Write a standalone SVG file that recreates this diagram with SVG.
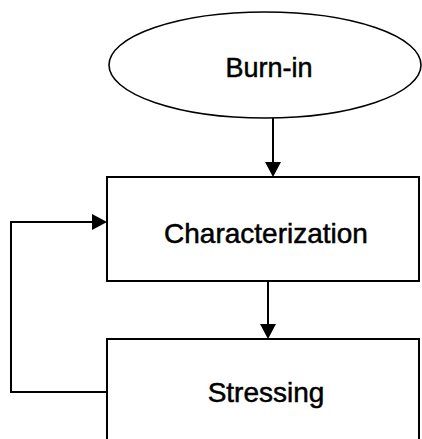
<svg xmlns="http://www.w3.org/2000/svg" width="422" height="439" viewBox="0 0 422 439">
<style>
.shape{fill:#fff;stroke:#000;stroke-width:2}
.lbl{font-family:"Liberation Sans",Arial,sans-serif;font-size:28px;fill:#000;stroke:#000;stroke-width:0.5;text-anchor:middle}
.conn{fill:none;stroke:#000;stroke-width:2}
.head{fill:#000}
</style>
<rect width="422" height="439" fill="#fff"/>
<g id="burnin">
<ellipse class="shape" cx="265" cy="65" rx="156" ry="53" style="stroke-width:1.6"/>
<text class="lbl" x="269" y="77" style="font-size:27px">Burn-in</text>
</g>
<g id="characterization">
<rect class="shape" x="107" y="177" width="312" height="104"/>
<text class="lbl" x="266" y="243">Characterization</text>
</g>
<g id="stressing">
<rect class="shape" x="107" y="339" width="312" height="110"/>
<text class="lbl" x="266" y="402">Stressing</text>
</g>
<g id="connectors">
<path class="conn" d="M273,118 V163"/>
<path class="head" d="M265,162 L281,162 L273,177 Z"/>
<path class="conn" d="M268,281 V326"/>
<path class="head" d="M260,324 L276,324 L268,339 Z"/>
<path class="conn" d="M107,392 H11 V222 H93"/>
<path class="head" d="M92,214 L107,222 L92,230 Z"/>
</g>
</svg>
